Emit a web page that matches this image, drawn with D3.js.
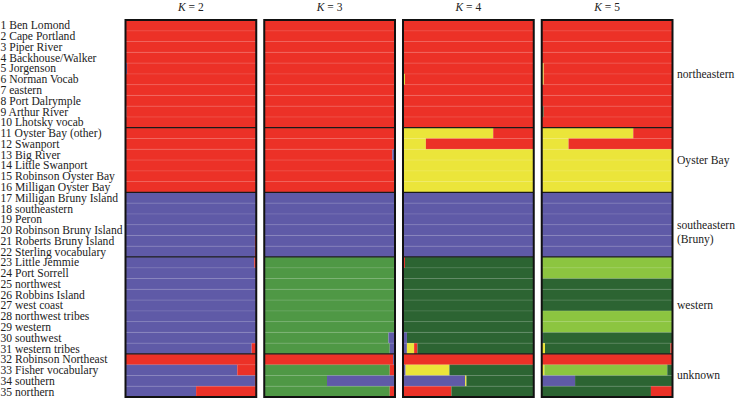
<!DOCTYPE html>
<html><head><meta charset="utf-8">
<script src="https://cdn.jsdelivr.net/npm/d3@7"></script>
<style>
html,body{margin:0;padding:0;background:#fff;}
svg{display:block;}
text{font-family:"Liberation Serif","DejaVu Serif",serif;fill:#222;}
</style></head>
<body><svg id="c" width="736" height="401"></svg>
<script>
// ---------- data ----------
const rowLabels = ["Ben Lomond","Cape Portland","Piper River","Backhouse/Walker","Jorgenson","Norman Vocab","eastern","Port Dalrymple","Arthur River","Lhotsky vocab","Oyster Bay (other)","Swanport","Big River","Little Swanport","Robinson Oyster Bay","Milligan Oyster Bay","Milligan Bruny Island","southeastern","Peron","Robinson Bruny Island","Roberts Bruny Island","Sterling vocabulary","Little Jemmie","Port Sorrell","northwest","Robbins Island","west coast","northwest tribes","western","southwest","western tribes","Robinson Northeast","Fisher vocabulary","southern","northern"];
const groupNames = [["northeastern"],["Oyster Bay"],["southeastern","(Bruny)"],["western"],["unknown"]];
const groupEnds = [10,16,22,31,35];   // last row (1-based) of each group
const kValues = [2,3,4,5];

// cluster proportions per row, in the order they are stacked left to right
// R red, B blue, Y yellow, G mid green, D dark green, L light green
const k2 = [
 [["R",1]],[["R",1]],[["R",1]],[["R",1]],[["B",0.012],["R",0.988]],
 [["R",1]],[["R",1]],[["R",1]],[["B",0.006],["R",0.994]],[["R",1]],
 [["R",1]],[["R",1]],[["R",1]],[["R",1]],[["R",1]],[["R",1]],
 [["B",1]],[["B",1]],[["B",1]],[["B",1]],[["B",0.99],["R",0.01]],[["B",0.99],["R",0.01]],
 [["B",0.985],["R",0.015]],[["B",1]],[["B",1]],[["B",1]],[["B",1]],[["B",1]],[["B",1]],[["B",1]],[["B",0.965],["R",0.035]],
 [["R",1]],[["B",0.855],["R",0.145]],[["B",0.99],["R",0.01]],[["B",0.54],["R",0.46]]
];
const k3 = [
 [["R",1]],[["R",1]],[["R",1]],[["R",1]],[["R",1]],
 [["R",1]],[["R",1]],[["R",1]],[["R",1]],[["R",1]],
 [["R",1]],[["R",1]],[["R",0.98],["B",0.02]],[["R",1]],[["R",1]],[["R",1]],
 [["B",1]],[["B",1]],[["B",1]],[["B",1]],[["B",1]],[["B",1]],
 [["G",1]],[["G",1]],[["G",1]],[["G",1]],[["G",1]],[["G",1]],[["G",1]],[["G",0.95],["B",0.05]],[["G",0.96],["B",0.04]],
 [["R",0.985],["B",0.015]],[["G",0.96],["R",0.04]],[["G",0.48],["B",0.52]],[["G",0.96],["R",0.04]]
];
const k4 = [
 [["R",1]],[["R",1]],[["R",1]],[["R",1]],[["R",1]],
 [["Y",0.015],["R",0.985]],[["R",1]],[["R",1]],[["R",1]],[["R",1]],
 [["Y",0.69],["R",0.31]],[["Y",0.175],["R",0.825]],[["Y",1]],[["Y",1]],[["Y",1]],[["Y",1]],
 [["B",1]],[["B",1]],[["B",1]],[["B",1]],[["B",1]],[["B",1]],
 [["R",0.015],["D",0.985]],[["D",1]],[["D",1]],[["D",1]],[["D",1]],[["D",1]],[["D",1]],[["B",0.03],["D",0.97]],[["B",0.03],["Y",0.055],["R",0.025],["D",0.89]],
 [["R",1]],[["B",0.02],["Y",0.335],["D",0.645]],[["B",0.475],["Y",0.01],["D",0.515]],[["R",0.37],["D",0.63]]
];
const k5 = [
 [["R",1]],[["R",1]],[["R",1]],[["R",1]],[["Y",0.015],["R",0.985]],
 [["Y",0.015],["R",0.985]],[["R",1]],[["R",1]],[["D",0.015],["R",0.985]],[["R",1]],
 [["Y",0.70],["R",0.30]],[["Y",0.205],["R",0.795]],[["Y",1]],[["Y",1]],[["Y",1]],[["Y",1]],
 [["B",1]],[["B",1]],[["B",1]],[["B",1]],[["B",1]],[["B",1]],
 [["L",1]],[["L",1]],[["D",1]],[["D",1]],[["D",1]],[["L",1]],[["L",1]],[["B",0.01],["D",0.99]],[["Y",0.025],["D",0.96],["R",0.015]],
 [["R",1]],[["Y",0.02],["L",0.94],["D",0.04]],[["B",0.255],["D",0.745]],[["D",0.835],["R",0.165]]
];
const panels = [k2,k3,k4,k5];

// ---------- style ----------
const colors = {R:"#ec3127",B:"#5f5aa7",Y:"#ebe53a",G:"#4f9845",D:"#2c6432",L:"#8cc540"};

const svg = d3.select("#c");
const plotTop = 20, plotBottom = 397;
const xPanel = d3.scaleBand().domain(kValues).range([125.5,672.5]).paddingInner(8/139).paddingOuter(0);
const y = d3.scaleBand().domain(d3.range(rowLabels.length)).range([plotTop,plotBottom]).padding(0);
const xFrac = d3.scaleLinear().domain([0,1]).range([0,xPanel.bandwidth()]);

// left labels
svg.append("g").selectAll("text").data(rowLabels).join("text")
  .attr("x",0.5).attr("y",(d,i)=>y(i)+y.bandwidth()/2+0.5)
  .attr("dominant-baseline","central")
  .style("font-size","11.6px")
  .text((d,i)=>(i+1)+" "+d);

panels.forEach((rows,pi)=>{
  const k = kValues[pi];
  const g = svg.append("g").attr("transform",`translate(${xPanel(k)},0)`);
  rows.forEach((segs,ri)=>{
    let cum = 0;
    const data = segs.map(([c,v])=>{const s={c,x0:cum,x1:cum+v};cum+=v;return s;});
    g.selectAll(null).data(data).join("rect")
      .attr("x",d=>xFrac(d.x0)).attr("width",d=>Math.max(0,xFrac(d.x1)-xFrac(d.x0)))
      .attr("y",y(ri)).attr("height",y.bandwidth()+0.2)
      .attr("fill",d=>colors[d.c]);
  });
  // faint row separators
  g.selectAll("line.sep").data(d3.range(1,rowLabels.length)).join("line")
    .attr("class","sep")
    .attr("x1",0).attr("x2",xPanel.bandwidth())
    .attr("y1",d=>y(d)).attr("y2",d=>y(d))
    .attr("stroke","#fff").attr("stroke-opacity",0.18).attr("stroke-width",0.8);
  // group dividers
  g.selectAll("line.grp").data(groupEnds.slice(0,-1)).join("line")
    .attr("class","grp")
    .attr("x1",0).attr("x2",xPanel.bandwidth())
    .attr("y1",d=>y(d)).attr("y2",d=>y(d))
    .attr("stroke","#1a1a1a").attr("stroke-width",1.2);
  // border
  g.append("rect").attr("x",0).attr("y",plotTop).attr("width",xPanel.bandwidth()).attr("height",plotBottom-plotTop)
    .attr("fill","none").attr("stroke","#111").attr("stroke-width",2);
  // header
  const t = svg.append("text").attr("x",xPanel(k)+xPanel.bandwidth()/2).attr("y",11)
    .attr("text-anchor","middle").style("font-size","11.5px");
  t.append("tspan").style("font-style","italic").text("K");
  t.append("tspan").text(" = "+k);
});

// right group labels
let start = 0;
groupNames.forEach((lines,gi)=>{
  const end = groupEnds[gi];
  const cy = (y(start)+y(end-1)+y.bandwidth())/2;
  lines.forEach((ln,li)=>{
    svg.append("text").attr("x",677).attr("y",cy + li*14 + 0.5)
      .attr("dominant-baseline","central").style("font-size","11.6px").text(ln);
  });
  start = end;
});
</script></body></html>
